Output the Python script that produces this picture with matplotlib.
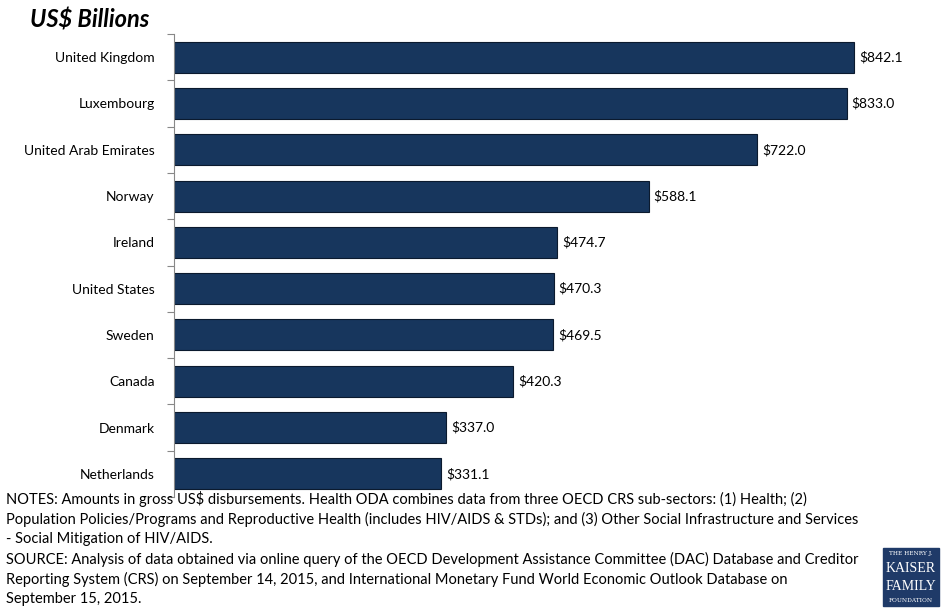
import numpy as np
import matplotlib
matplotlib.use("Agg")
from matplotlib import pyplot as plt
from matplotlib.patches import Rectangle

plt.rcParams['font.family'] = ['Lato', 'DejaVu Sans']

countries = ['United Kingdom', 'Luxembourg', 'United Arab Emirates', 'Norway',
             'Ireland', 'United States', 'Sweden', 'Canada', 'Denmark',
             'Netherlands']
values = [842.1, 833.0, 722.0, 588.1, 474.7, 470.3, 469.5, 420.3, 337.0, 331.1]

notes = ("NOTES: Amounts in gross US$ disbursements. Health ODA combines data from three OECD CRS sub-sectors: (1) Health; (2)\n"
         "Population Policies/Programs and Reproductive Health (includes HIV/AIDS & STDs); and (3) Other Social Infrastructure and Services\n"
         "- Social Mitigation of HIV/AIDS.\n"
         "SOURCE: Analysis of data obtained via online query of the OECD Development Assistance Committee (DAC) Database and Creditor\n"
         "Reporting System (CRS) on September 14, 2015, and International Monetary Fund World Economic Outlook Database on\n"
         "September 15, 2015.")

W, H = 941, 608
fig = plt.figure(figsize=(W / 100, H / 100), dpi=100)
ax = fig.add_axes([174 / W, 111 / H, 766 / W, 463 / H])

navy = '#17365d'
y = np.arange(len(countries))
ax.barh(y, values, height=0.67, color=navy, edgecolor='#0b1a2e', linewidth=0.8)

for yi, v in zip(y, values):
    ax.text(v + 6, yi, '${:.1f}'.format(v), va='center', ha='left',
            fontsize=10, color='black')

ax.set_ylim(len(countries) - 0.5, -0.5)
ax.set_xlim(0, 766 / 0.8075)
ax.set_yticks(y)
ax.set_yticklabels(countries, fontsize=10)
ax.tick_params(axis='y', which='major', length=0, pad=14)
ax.set_yticks(np.arange(-0.5, len(countries), 1), minor=True)
ax.tick_params(axis='y', which='minor', length=5, width=0.8, color='#888888')
ax.set_xticks([])
for s in ['top', 'right', 'bottom']:
    ax.spines[s].set_visible(False)
ax.spines['left'].set_color('#888888')
ax.spines['left'].set_linewidth(0.8)

fig.text(30 / W, 1 - 20 / H, 'US$ Billions', fontsize=17, fontweight='bold',
         fontstyle='italic', va='center', ha='left')

fig.text(6 / W, 1 - 491 / H, notes, fontsize=10.5, va='top', ha='left',
         linespacing=1.44)

# foundation logo block
lx, ly, lw, lh = 883, 548, 56, 58
fig.patches.append(Rectangle((lx / W, 1 - (ly + lh) / H), lw / W, lh / H,
                             transform=fig.transFigure, color='#1f3a68'))
cx = (lx + lw / 2) / W
fig.text(cx, 1 - 554 / H, 'THE HENRY J.', fontsize=4.2, color='white',
         family='DejaVu Serif', ha='center', va='center')
fig.text(cx, 1 - 568 / H, 'KAISER', fontsize=10, color='white',
         family='Liberation Serif', ha='center', va='center')
fig.text(cx, 1 - 586 / H, 'FAMILY', fontsize=10, color='white',
         family='Liberation Serif', ha='center', va='center')
fig.text(cx, 1 - 601 / H, 'FOUNDATION', fontsize=4.2, color='white',
         family='DejaVu Serif', ha='center', va='center')

fig.savefig('out.png', dpi=100)
